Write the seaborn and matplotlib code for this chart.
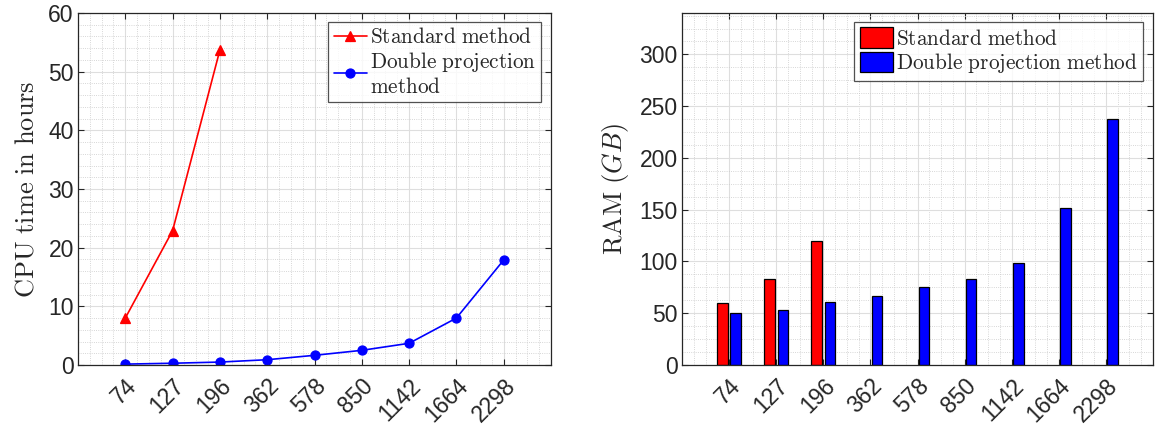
import numpy as np
import pandas as pd
import matplotlib
matplotlib.use("Agg")
import matplotlib.pyplot as plt
from matplotlib.ticker import MultipleLocator
import seaborn as sns

# ---- data ----
sizes = ['74', '127', '196', '362', '578', '850', '1142', '1664', '2298']
cpu_standard = [8.0, 22.9, 53.7]
cpu_double = [0.15, 0.3, 0.5, 0.9, 1.65, 2.5, 3.7, 8.0, 17.9]
ram_standard = [60, 83, 120]
ram_double = [50, 53, 61, 67, 75, 83, 99, 152, 238]
methods = ['Standard', 'Double']
legend_left = [r'$\mathrm{Standard\ method}$', '$\\mathrm{Double\\ projection}$\n$\\mathrm{method}$']
legend_right = [r'$\mathrm{Standard\ method}$', r'$\mathrm{Double\ projection\ method}$']
colors = {'Standard': '#ff0000', 'Double': '#0000ff'}

cpu_df = pd.DataFrame({
    'size': sizes[:len(cpu_standard)] + sizes,
    'value': cpu_standard + cpu_double,
    'method': ['Standard'] * len(cpu_standard) + ['Double'] * len(cpu_double),
})
ram_df = pd.DataFrame({
    'size': sizes[:len(ram_standard)] + sizes,
    'value': ram_standard + ram_double,
    'method': ['Standard'] * len(ram_standard) + ['Double'] * len(ram_double),
})

sns.set_style("white")
plt.rcParams['font.family'] = ['Liberation Sans', 'DejaVu Sans']
plt.rcParams['mathtext.fontset'] = 'cm'

dark = '#262626'
fig = plt.figure(figsize=(11.63, 4.30), dpi=100)
ax1 = fig.add_axes([78 / 1163, 1 - 365 / 430, (551 - 78) / 1163, (365 - 13) / 430])
ax2 = fig.add_axes([682 / 1163, 1 - 365 / 430, (1153 - 682) / 1163, (365 - 13) / 430])

# ---- left: CPU time ----
sns.pointplot(data=cpu_df, x='size', y='value', hue='method', order=sizes,
              hue_order=methods, palette=colors, markers=['^', 'o'],
              linestyles=['-', '-'], errorbar=None, markersize=6.5,
              linewidth=1.2, ax=ax1)
# ---- right: RAM ----
sns.barplot(data=ram_df, x='size', y='value', hue='method', order=sizes,
            hue_order=methods, palette=colors, width=0.56, gap=0.2,
            edgecolor='black', linewidth=0.9, errorbar=None, saturation=1,
            ax=ax2)

def style_axes(ax, ymax, ymajor, yminor):
    ax.set_xlim(-1, 9)
    ax.set_ylim(0, ymax)
    ax.set_xticks(range(len(sizes)))
    ax.set_xticklabels(sizes)
    ax.yaxis.set_major_locator(MultipleLocator(ymajor))
    ax.yaxis.set_minor_locator(MultipleLocator(yminor))
    ax.xaxis.set_minor_locator(MultipleLocator(0.25))
    ax.set_axisbelow(True)
    ax.grid(True, which='major', color='#dedede', linewidth=0.8, linestyle='-')
    ax.grid(True, which='minor', color='#c9c9c9', linewidth=0.6, linestyle=':')
    for s in ax.spines.values():
        s.set_visible(True)
        s.set_color(dark)
        s.set_linewidth(0.9)
    ax.tick_params(which='major', direction='in', length=4, width=0.8,
                   color=dark, labelcolor=dark, labelsize=16.5,
                   top=True, right=True, bottom=True, left=True)
    ax.tick_params(which='minor', length=0)
    ax.tick_params(axis='x', pad=7)
    ax.tick_params(axis='y', pad=3)
    for lab in ax.get_xticklabels():
        lab.set_rotation(45)
        lab.set_ha('right')
        lab.set_va('top')
        lab.set_rotation_mode('anchor')
    ax.set_xlabel('')

style_axes(ax1, 60, 10, 2)
style_axes(ax2, 340, 50, 12.5)

ax1.set_ylabel(r'$\mathrm{CPU\ time\ in\ hours}$', fontsize=19, color=dark, labelpad=7)
ax2.set_ylabel(r'$\mathrm{RAM}\ (GB)$', fontsize=19, color=dark, labelpad=6)

# legends
h1 = ax1.get_legend().legend_handles
leg1 = ax1.legend(handles=h1, labels=legend_left, loc='upper right',
                  bbox_to_anchor=(0.979, 0.974), borderaxespad=0,
                  fontsize=15.3, frameon=True, fancybox=False,
                  handlelength=1.55, handletextpad=0.15, borderpad=0.25,
                  labelspacing=0.1)
leg1.get_frame().set_edgecolor(dark)
leg1.get_frame().set_linewidth(0.9)
for h in leg1.legend_handles:
    h.set_linewidth(1.2)

h2 = ax2.get_legend().legend_handles
for h in h2:
    h.set_edgecolor('black')
    h.set_linewidth(0.9)
leg2 = ax2.legend(handles=h2, labels=legend_right, loc='upper right',
                  bbox_to_anchor=(0.979, 0.974), borderaxespad=0,
                  fontsize=15.3, frameon=True, fancybox=False,
                  handlelength=1.55, handleheight=1.1, handletextpad=0.15,
                  borderpad=0.25, labelspacing=0.12)
leg2.get_frame().set_edgecolor(dark)
leg2.get_frame().set_linewidth(0.9)

fig.savefig('out.png', dpi=100)
